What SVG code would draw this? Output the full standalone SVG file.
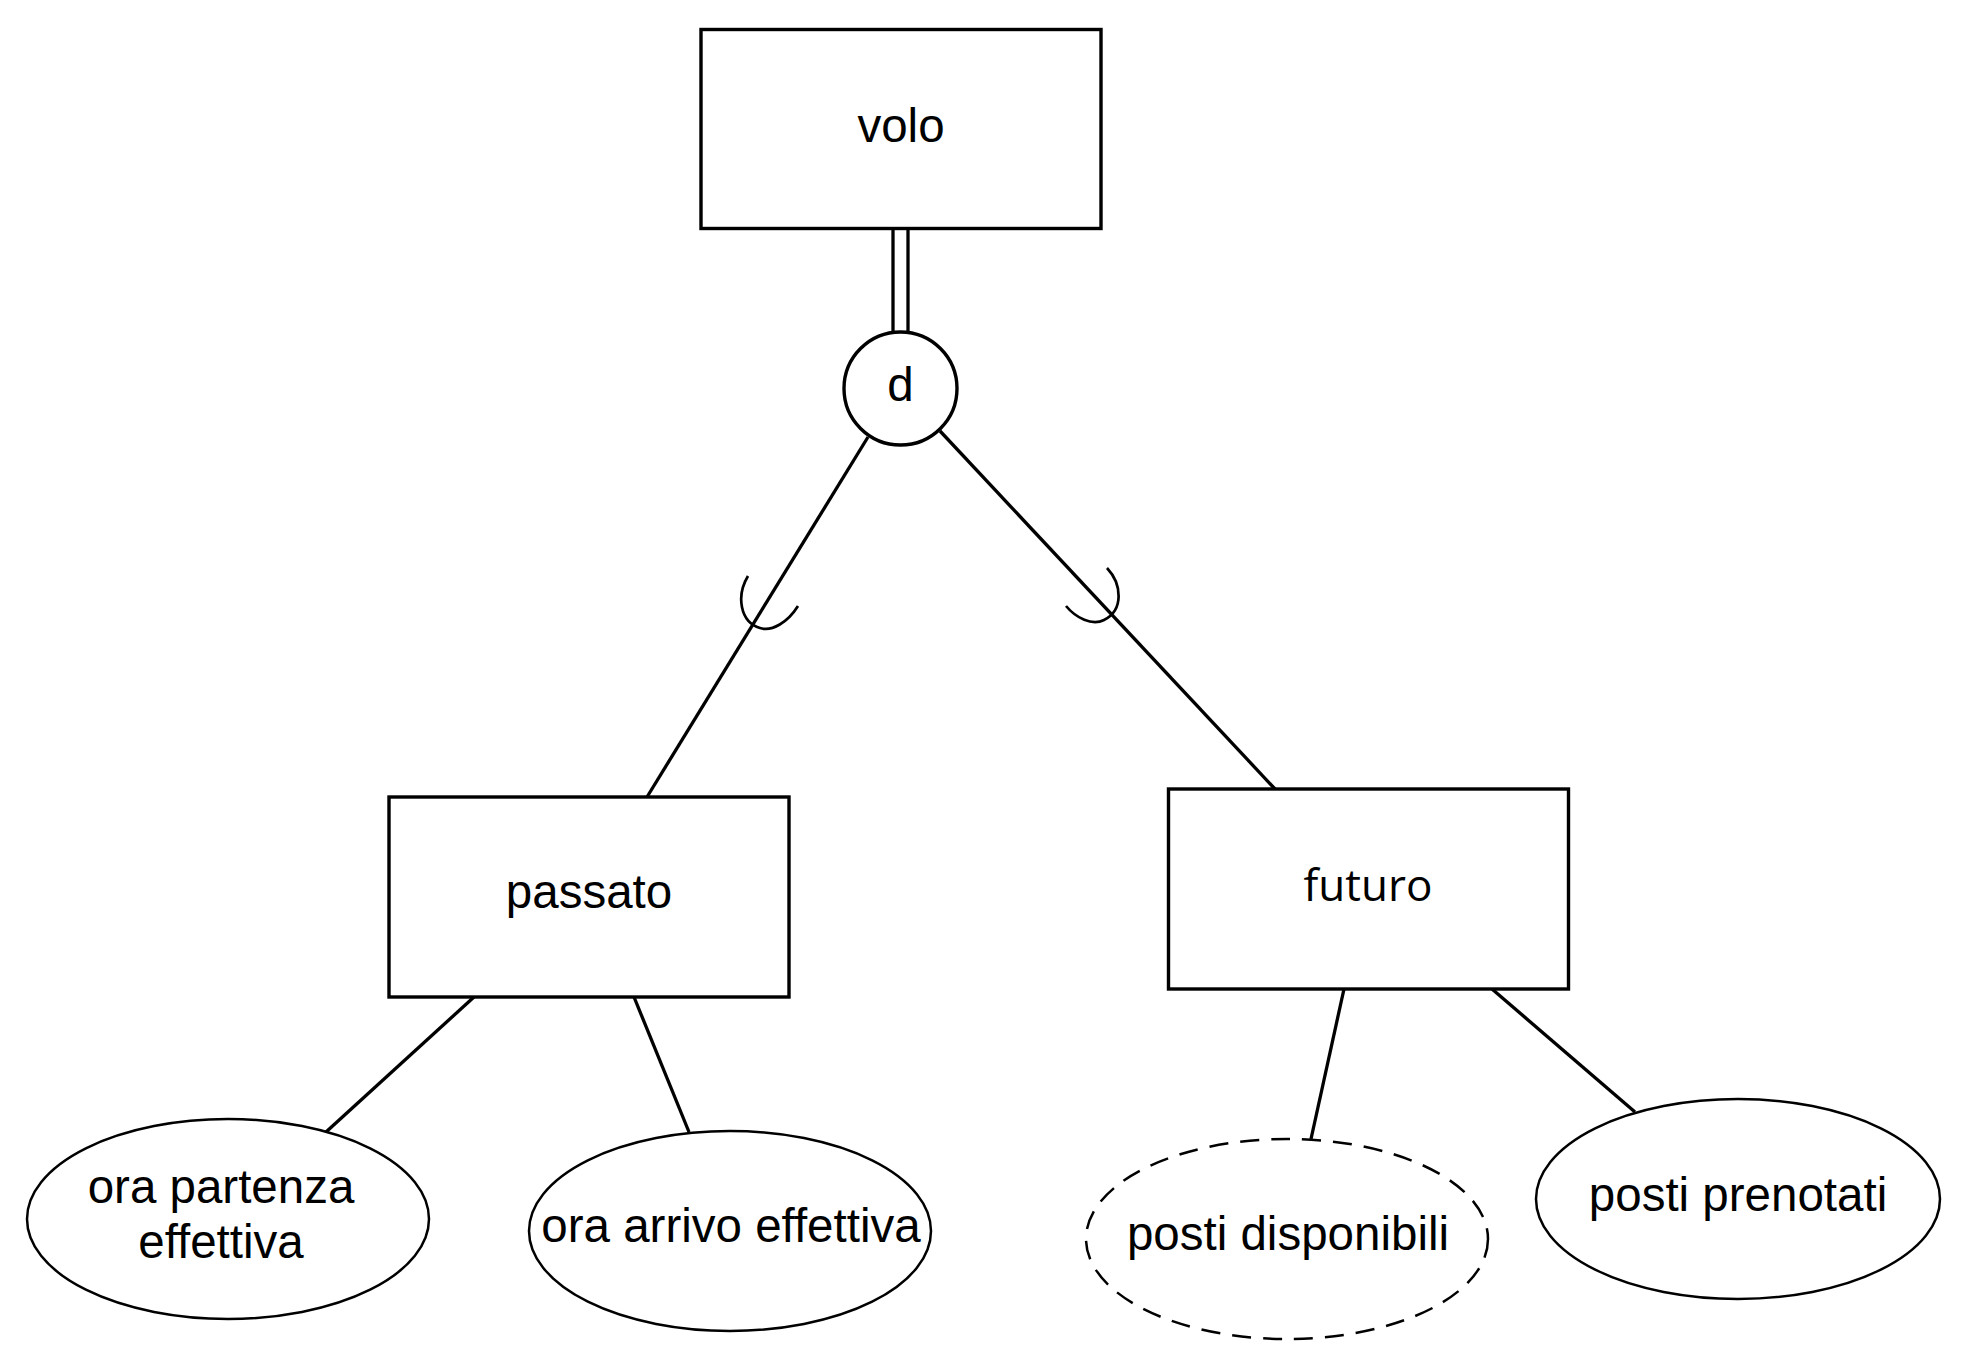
<svg xmlns="http://www.w3.org/2000/svg" width="1964" height="1368" viewBox="0 0 1964 1368">
<style>
.ent{fill:#fff;stroke:#000;stroke-width:3.4}
.attr{fill:#fff;stroke:#000;stroke-width:2.5}
.dash{stroke-dasharray:19 12}
.ln{fill:none;stroke:#000;stroke-width:3.3}
.arc{fill:none;stroke:#000;stroke-width:2.7}
.t{font-family:"Liberation Sans",Arial,sans-serif;font-size:47.5px;fill:#000;text-anchor:middle}
.t2{font-family:"Open Sans","Noto Sans",sans-serif;font-size:44px;fill:#000;text-anchor:middle}
</style>
<rect width="1964" height="1368" fill="#fff"/>
<g id="connectors">
<line class="ln" x1="893" y1="229" x2="893" y2="333" stroke-width="2.8"/>
<line class="ln" x1="908" y1="229" x2="908" y2="333" stroke-width="2.8"/>
<line class="ln" x1="868" y1="437" x2="647" y2="797"/>
<line class="ln" x1="940" y1="431" x2="1275" y2="789"/>
<path class="arc" d="M 748 576 C 736 596, 740 622, 760 628 C 772 632, 788 622, 798 606"/>
<path class="arc" d="M 1107 568 C 1122 584, 1124 610, 1104 620 C 1092 626, 1076 618, 1066 606"/>
<line class="ln" x1="474" y1="997" x2="326" y2="1132"/>
<line class="ln" x1="634" y1="997" x2="689" y2="1132"/>
<line class="ln" x1="1344" y1="989" x2="1311" y2="1139"/>
<line class="ln" x1="1492" y1="989" x2="1635" y2="1112"/>
</g>
<g id="volo">
<rect class="ent" x="701" y="29.5" width="400" height="199"/>
<text class="t" x="901" y="142">volo</text>
</g>
<g id="d">
<circle class="ent" cx="900.5" cy="388.5" r="56.5"/>
<text class="t" x="900.5" y="401">d</text>
</g>
<g id="passato">
<rect class="ent" x="389" y="797" width="400" height="200"/>
<text class="t" x="589" y="908">passato</text>
</g>
<g id="futuro">
<rect class="ent" x="1168.5" y="789" width="400" height="200"/>
<text class="t2" x="1368" y="901">futuro</text>
</g>
<g id="ora-partenza-effettiva">
<ellipse class="attr" cx="228" cy="1219" rx="201" ry="100"/>
<text class="t" x="221" y="1203">ora partenza</text>
<text class="t" x="221" y="1258">effettiva</text>
</g>
<g id="ora-arrivo-effettiva">
<ellipse class="attr" cx="730" cy="1231" rx="201" ry="100"/>
<text class="t" x="731" y="1242">ora arrivo effettiva</text>
</g>
<g id="posti-disponibili">
<ellipse class="attr dash" cx="1287" cy="1239" rx="201" ry="100"/>
<text class="t" x="1288" y="1250">posti disponibili</text>
</g>
<g id="posti-prenotati">
<ellipse class="attr" cx="1738" cy="1199" rx="202" ry="100"/>
<text class="t" x="1738" y="1211">posti prenotati</text>
</g>
</svg>
